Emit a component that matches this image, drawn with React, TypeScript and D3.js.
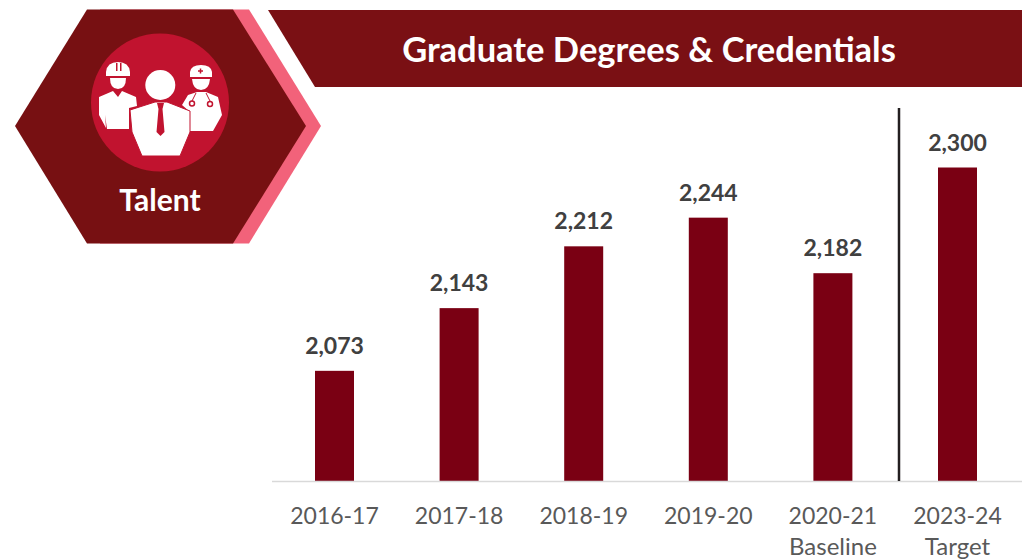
import React, { useEffect, useRef } from 'react';
import * as d3 from 'd3';

const years = ['2016-17', '2017-18', '2018-19', '2019-20', '2020-21', '2023-24'];
const subLabels = ['', '', '', '', 'Baseline', 'Target'];
const degrees = [2073, 2143, 2212, 2244, 2182, 2300];
const targetYear = '2023-24';

const FONT = 'Lato, "Open Sans", sans-serif';

// badge + header shapes
const poly = (pts: number[][]) => d3.line()(pts as [number, number][]) + 'Z';

const App = () => {
  const ref = useRef<SVGSVGElement>(null);

  useEffect(() => {
    const svg = d3.select(ref.current);
    svg.selectAll('*').remove();

    // Header ribbon
    svg.append('path')
      .attr('d', poly([[268, 10], [1022, 10], [1022, 87], [315, 87]]))
      .attr('fill', '#7A1014');
    svg.append('text')
      .attr('x', 649).attr('y', 62)
      .attr('text-anchor', 'middle')
      .attr('font-family', FONT).attr('font-weight', 700).attr('font-size', 34.5)
      .attr('fill', '#fff')
      .text('Graduate Degrees & Credentials');

    // Hexagon badge
    svg.append('path')
      .attr('d', poly([[100, 9.5], [249, 9.5], [321, 126], [249, 243.5], [100, 243.5]]))
      .attr('fill', '#F2627A');
    svg.append('path')
      .attr('d', poly([[87, 9.5], [233, 9.5], [306, 126], [233, 243.5], [87, 243.5], [15, 126]]))
      .attr('fill', '#771012');
    svg.append('circle')
      .attr('cx', 160).attr('cy', 102.5).attr('r', 69)
      .attr('fill', '#C1132F');

    const icon = svg.append('g').attr('fill', '#fff');
    // worker
    icon.append('path').attr('d', 'M106,76 L106,72 Q107,62 118,62 Q129,62 130,72 L130,76 Z');
    icon.append('path').attr('d', 'M110,78 L126,78 Q126,89 118,89 Q110,89 110,78 Z');
    icon.append('path').attr('d', poly([[99, 97], [113, 91], [118, 97], [122, 91], [136, 97], [137, 106], [129, 108], [129, 129], [107, 129], [105, 115], [106, 128], [99, 115]]));
    icon.append('rect').attr('x', 116).attr('y', 63).attr('width', 1.5).attr('height', 8).attr('fill', '#C1132F');
    icon.append('rect').attr('x', 120).attr('y', 63).attr('width', 1.5).attr('height', 8).attr('fill', '#C1132F');
    // doctor
    icon.append('path').attr('d', 'M190,72 Q191,65 201,65 Q211,65 212,72 L212,77 L190,77 Z');
    icon.append('path').attr('d', 'M192,79 L210,79 Q209,90 201,90 Q193,90 192,79 Z');
    icon.append('path').attr('d', poly([[182, 105], [188, 95], [197, 92], [206, 92], [218, 97], [222, 115], [213, 131], [190, 131], [190, 112]]));
    icon.append('path').attr('d', 'M198,71 H203 M200.5,68.5 V73.5').attr('stroke', '#C1132F').attr('stroke-width', 1.5);
    icon.append('circle').attr('cx', 192).attr('cy', 103.5).attr('r', 2.5).attr('fill', 'none').attr('stroke', '#C1132F').attr('stroke-width', 1.5);
    icon.append('circle').attr('cx', 210).attr('cy', 104).attr('r', 2.5).attr('fill', 'none').attr('stroke', '#C1132F').attr('stroke-width', 1.5);
    icon.append('path').attr('d', 'M192,101 L196,93 M210,101 L206,93').attr('fill', 'none').attr('stroke', '#C1132F').attr('stroke-width', 1);
    // centre figure, crimson outline keeps it apart from the other two
    icon.append('circle').attr('cx', 160.3).attr('cy', 85).attr('r', 15);
    icon.append('path')
      .attr('d', poly([[130, 110], [155, 102], [167, 102], [190, 111], [190, 132], [180, 156], [142, 156], [132, 132]]))
      .attr('stroke', '#C1132F').attr('stroke-width', 1);
    icon.append('path')
      .attr('d', poly([[157, 103], [164, 103], [162.5, 109], [164.5, 132], [160.5, 136], [156.5, 132], [158.5, 109]]))
      .attr('fill', '#C1132F');

    svg.append('text')
      .attr('x', 160).attr('y', 211)
      .attr('text-anchor', 'middle')
      .attr('font-family', FONT).attr('font-weight', 700).attr('font-size', 30)
      .attr('fill', '#fff')
      .text('Talent');

    // Chart
    const xScale = d3.scaleBand()
      .domain(years)
      .range([272.2, 1019.8])
      .paddingInner(0.687)
      .paddingOuter(0.3435);

    const yScale = d3.scaleLinear()
      .domain([1950, 2300])
      .range([481, 167.5]);

    svg.selectAll('.bar')
      .data(degrees)
      .enter()
      .append('rect')
      .attr('class', 'bar')
      .attr('x', (d, i) => xScale(years[i]))
      .attr('y', d => yScale(d))
      .attr('width', xScale.bandwidth())
      .attr('height', d => 481 - yScale(d))
      .attr('fill', '#7A0013');

    svg.selectAll('.label')
      .data(degrees)
      .enter()
      .append('text')
      .attr('class', 'label')
      .attr('x', (d, i) => xScale(years[i]) + xScale.bandwidth() / 2)
      .attr('y', d => yScale(d) - 17)
      .attr('text-anchor', 'middle')
      .attr('font-family', FONT).attr('font-weight', 700).attr('font-size', 23)
      .attr('fill', '#404040')
      .text(d => d3.format(',')(d));

    // X axis
    const axis = svg.append('g')
      .attr('transform', 'translate(0, 481.5)')
      .call(d3.axisBottom(xScale).tickSize(0).tickPadding(26));
    axis.select('.domain').attr('stroke', '#D9D9D9').attr('stroke-width', 1.5).attr('d', 'M272,0H1022');
    axis.selectAll('text')
      .attr('font-family', FONT).attr('font-size', 23)
      .attr('fill', '#595959');
    axis.selectAll('.tick').each(function (d, i) {
      if (!subLabels[i]) return;
      d3.select(this).append('text')
        .attr('y', 73)
        .attr('text-anchor', 'middle')
        .attr('font-family', FONT).attr('font-size', 24)
        .attr('fill', '#595959')
        .text(subLabels[i]);
    });

    // Divider before the target year
    const dividerX = xScale(targetYear) - xScale.bandwidth();
    svg.append('line')
      .attr('x1', dividerX).attr('x2', dividerX)
      .attr('y1', 108).attr('y2', 481)
      .attr('stroke', '#231F20')
      .attr('stroke-width', 2.5);
  }, []);

  return (
    <svg
      ref={ref}
      width={1022}
      height={560}
      style={{ position: 'absolute', left: 0, top: 0, background: '#fff' }}
    />
  );
};

export default App;
